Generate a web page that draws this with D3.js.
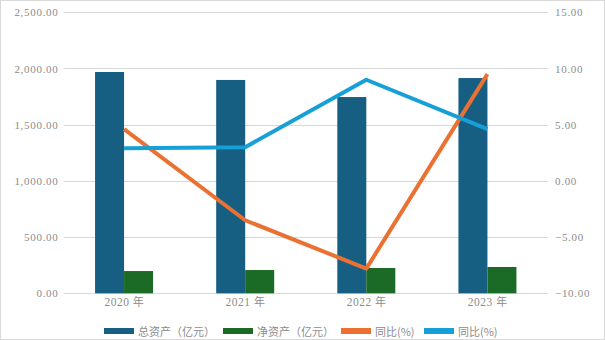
<!DOCTYPE html>
<html>
<head>
<meta charset="utf-8">
<script src="https://cdn.jsdelivr.net/npm/d3@7"></script>
<style>
  html, body { margin: 0; padding: 0; background: #fff; }
  svg { display: block; }
</style>
</head>
<body>
<svg id="chart" width="605" height="340"></svg>
<script>
// Years on the category axis
const years = ["2020 年", "2021 年", "2022 年", "2023 年"];
// Total assets and net assets, in 亿元
const totalAssets = [1969, 1898, 1746, 1915];
const netAssets = [198, 207, 225, 234];
// Year-on-year change, in %
const totalYoY = [4.6, -3.5, -7.8, 9.5];
const netYoY = [2.9, 3.0, 9.0, 4.6];
// Axis ticks
const leftTicks = [0, 500, 1000, 1500, 2000, 2500];
const rightTicks = [-10, -5, 0, 5, 10, 15];

const legendItems = [
  { label: "总资产（亿元）", color: "#165e82" },
  { label: "净资产（亿元）", color: "#1b6a25" },
  { label: "同比(%)", color: "#ea7131" },
  { label: "同比(%)", color: "#17a0d8" }
];

const W = 605, H = 340;
const m = { left: 63.5, right: 57, top: 12.3, bottom: 46.7 };
const svg = d3.select("#chart");
const textColor = "#8c8c8c";
const numFont = "'Liberation Serif', 'DejaVu Serif', serif";
const cjkFont = "'Noto Sans CJK SC', sans-serif";

// outer frame
svg.append("rect").attr("x", 0.5).attr("y", 0.5).attr("width", W - 1).attr("height", H - 1)
  .attr("fill", "#fff").attr("stroke", "#d9d9d9");

const x = d3.scaleBand().domain(years).range([m.left, W - m.right]);
const yL = d3.scaleLinear().domain([0, 2500]).range([H - m.bottom, m.top]);
const yR = d3.scaleLinear().domain([-10, 15]).range([H - m.bottom, m.top]);

// gridlines
svg.append("g").selectAll("line").data(leftTicks).join("line")
  .attr("x1", m.left).attr("x2", W - m.right)
  .attr("y1", d => Math.round(yL(d)) + 0.5).attr("y2", d => Math.round(yL(d)) + 0.5)
  .attr("stroke", "#d9d9d9").attr("stroke-width", 1);

// left axis labels
const fmtL = d3.format(",.2f");
const leftAxis = d3.axisLeft(yL).tickValues(leftTicks).tickFormat(fmtL).tickSize(0).tickPadding(5);
const gL = svg.append("g").attr("transform", `translate(${m.left},0)`).call(leftAxis);
gL.select(".domain").remove();
gL.selectAll("text").attr("fill", textColor).style("font-family", numFont)
  .style("font-size", "11px").style("letter-spacing", "0.7px");

// right axis labels
const rightAxis = d3.axisRight(yR).tickValues(rightTicks).tickFormat(d3.format(".2f")).tickSize(0).tickPadding(7);
const gR = svg.append("g").attr("transform", `translate(${W - m.right},0)`).call(rightAxis);
gR.select(".domain").remove();
gR.selectAll("text").attr("fill", textColor).style("font-family", numFont)
  .style("font-size", "11px").style("letter-spacing", "0.7px");

// bars
const bw = 29;
const barG = svg.append("g");
barG.selectAll("rect.total").data(totalAssets).join("rect").attr("class", "total")
  .attr("x", (d, i) => x(years[i]) + x.bandwidth() / 2 - bw)
  .attr("width", bw)
  .attr("y", d => yL(d)).attr("height", d => yL(0) - yL(d))
  .attr("fill", legendItems[0].color);
barG.selectAll("rect.net").data(netAssets).join("rect").attr("class", "net")
  .attr("x", (d, i) => x(years[i]) + x.bandwidth() / 2)
  .attr("width", bw)
  .attr("y", d => yL(d)).attr("height", d => yL(0) - yL(d))
  .attr("fill", legendItems[1].color);

// year labels
svg.append("g").selectAll("text").data(years).join("text")
  .attr("x", d => x(d) + x.bandwidth() / 2).attr("y", 306)
  .attr("text-anchor", "middle").attr("fill", textColor)
  .style("font-family", numFont).style("font-size", "11.5px")
  .each(function(d) {
    const parts = d.split(" ");
    const t = d3.select(this);
    t.append("tspan").text(parts[0] + " ").style("letter-spacing", "0.5px");
    t.append("tspan").text(parts[1]).style("font-family", cjkFont).style("font-size", "11px");
  });

// YoY lines
const line = d3.line()
  .x((d, i) => x(years[i]) + x.bandwidth() / 2)
  .y(d => yR(d));
svg.append("path").datum(totalYoY).attr("d", line)
  .attr("fill", "none").attr("stroke", legendItems[2].color).attr("stroke-width", 4)
  .attr("stroke-linejoin", "round");
svg.append("path").datum(netYoY).attr("d", line)
  .attr("fill", "none").attr("stroke", legendItems[3].color).attr("stroke-width", 4)
  .attr("stroke-linejoin", "round");

// legend
const legendX = [104, 223, 341, 424];
const lg = svg.append("g");
legendItems.forEach((it, i) => {
  lg.append("rect").attr("x", legendX[i]).attr("y", 328).attr("width", 30).attr("height", 6)
    .attr("fill", it.color);
  lg.append("text").attr("x", legendX[i] + 34).attr("y", 335.5)
    .attr("fill", textColor).style("font-family", cjkFont).style("font-size", "11px")
    .text(it.label);
});
</script>
</body>
</html>
